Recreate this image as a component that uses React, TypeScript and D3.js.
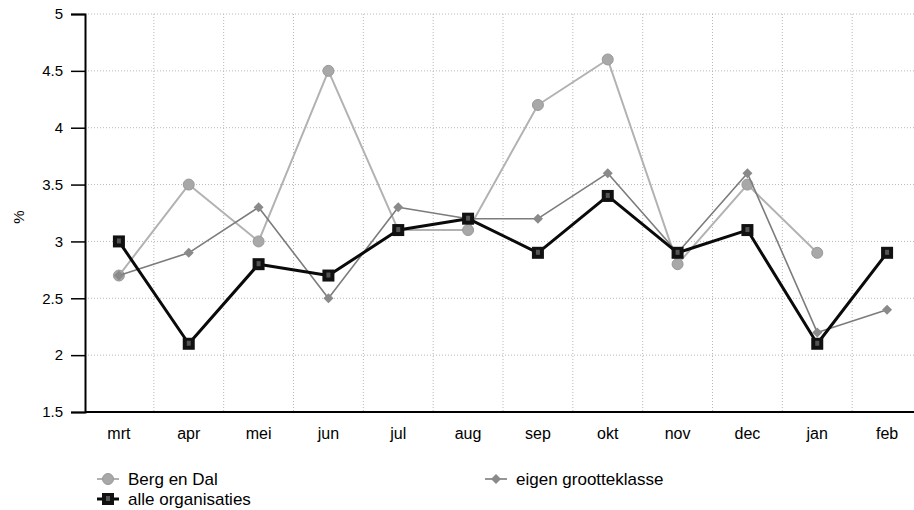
import React, { useEffect, useRef } from 'react';
import * as d3 from 'd3';

const months = ['mrt', 'apr', 'mei', 'jun', 'jul', 'aug', 'sep', 'okt', 'nov', 'dec', 'jan', 'feb'];
const bergEnDal = [2.7, 3.5, 3.0, 4.5, 3.1, 3.1, 4.2, 4.6, 2.8, 3.5, 2.9, null];
const eigenGrootteklasse = [2.7, 2.9, 3.3, 2.5, 3.3, 3.2, 3.2, 3.6, 2.9, 3.6, 2.2, 2.4];
const alleOrganisaties = [3.0, 2.1, 2.8, 2.7, 3.1, 3.2, 2.9, 3.4, 2.9, 3.1, 2.1, 2.9];
const yTicks = [1.5, 2, 2.5, 3, 3.5, 4, 4.5, 5];

export default function App() {
  const ref = useRef<SVGSVGElement>(null);

  useEffect(() => {
    if (!ref.current) return;
    const svg = d3.select(ref.current);
    svg.selectAll('*').remove();

    const width = 914;
    const margin = { top: 14, left: 85, bottom: 412 };
    const font = '"Liberation Sans", Arial, sans-serif';

    const x = d3.scaleBand().domain(months).range([84, 922]);
    const cx = (m: string) => x(m)! + x.bandwidth() / 2;
    const y = d3.scaleLinear().domain([1.5, 5]).range([margin.bottom, margin.top]);

    // grid
    const grid = svg.append('g').attr('stroke', '#b8b8b8').attr('stroke-dasharray', '1,2');
    grid.selectAll('line.h')
      .data(yTicks.slice(1))
      .enter()
      .append('line')
      .attr('x1', margin.left)
      .attr('x2', width)
      .attr('y1', d => y(d))
      .attr('y2', d => y(d));
    grid.selectAll('line.v')
      .data(months.slice(1))
      .enter()
      .append('line')
      .attr('x1', d => x(d)!)
      .attr('x2', d => x(d)!)
      .attr('y1', margin.top)
      .attr('y2', margin.bottom);

    // y axis
    const yAxis = svg.append('g')
      .attr('transform', `translate(${margin.left},0)`)
      .call(d3.axisLeft(y).tickValues(yTicks).tickSize(14).tickPadding(8).tickFormat(d => String(d)));
    yAxis.select('.domain').attr('stroke', '#000').attr('stroke-width', 2);
    yAxis.selectAll('.tick line').attr('stroke', '#000').attr('stroke-width', 1.5);
    yAxis.selectAll('.tick text')
      .attr('fill', '#000')
      .attr('font-size', 15)
      .attr('font-family', font);

    // x axis
    svg.append('line')
      .attr('x1', margin.left)
      .attr('x2', width)
      .attr('y1', margin.bottom)
      .attr('y2', margin.bottom)
      .attr('stroke', '#000')
      .attr('stroke-width', 2);
    svg.append('g')
      .selectAll('text')
      .data(months)
      .enter()
      .append('text')
      .attr('x', d => cx(d))
      .attr('y', 439)
      .attr('text-anchor', 'middle')
      .attr('font-size', 16)
      .attr('font-family', font)
      .text(d => d);

    svg.append('text')
      .attr('transform', 'translate(24,217) rotate(-90)')
      .attr('text-anchor', 'middle')
      .attr('font-size', 15)
      .attr('font-family', font)
      .text('%');

    const series = [
      { key: 'berg', values: bergEnDal, color: '#b2b2b2', width: 2, marker: 'circle', mfill: '#a8a8a8' },
      { key: 'eigen', values: eigenGrootteklasse, color: '#7c7c7c', width: 1.6, marker: 'diamond', mfill: '#8a8a8a' },
      { key: 'alle', values: alleOrganisaties, color: '#0a0a0a', width: 3, marker: 'square', mfill: '#111' },
    ];

    const drawMarker = (g: any, type: string, fill: string) => {
      if (type === 'circle') {
        g.append('circle').attr('r', 5.5).attr('fill', fill).attr('stroke', '#999').attr('stroke-width', 1);
      } else if (type === 'diamond') {
        g.append('path').attr('d', 'M0,-5L5,0L0,5L-5,0Z').attr('fill', fill);
      } else {
        g.append('rect').attr('x', -6).attr('y', -6).attr('width', 12).attr('height', 12).attr('fill', fill);
        g.append('rect').attr('x', -2).attr('y', -3).attr('width', 4).attr('height', 5).attr('fill', '#555');
      }
    };

    series.forEach(s => {
      const pts = months.map((m, i) => ({ m, v: s.values[i] })).filter(p => p.v != null) as { m: string; v: number }[];
      const line = d3.line<{ m: string; v: number }>().x(p => cx(p.m)).y(p => y(p.v));
      svg.append('path')
        .datum(pts)
        .attr('fill', 'none')
        .attr('stroke', s.color)
        .attr('stroke-width', s.width)
        .attr('stroke-linejoin', 'round')
        .attr('d', line);
      pts.forEach(p => {
        const g = svg.append('g').attr('transform', `translate(${cx(p.m)},${y(p.v)})`);
        drawMarker(g, s.marker, s.mfill);
      });
    });

    // legend
    const legend = [
      { label: 'Berg en Dal', s: series[0], lx: 97, ly: 479 },
      { label: 'alle organisaties', s: series[2], lx: 97, ly: 499 },
      { label: 'eigen grootteklasse', s: series[1], lx: 485, ly: 479 },
    ];
    legend.forEach(l => {
      const g = svg.append('g');
      g.append('line')
        .attr('x1', l.lx)
        .attr('x2', l.lx + 22)
        .attr('y1', l.ly)
        .attr('y2', l.ly)
        .attr('stroke', l.s.color)
        .attr('stroke-width', l.s.width);
      const mg = g.append('g').attr('transform', `translate(${l.lx + 11},${l.ly})`);
      drawMarker(mg, l.s.marker, l.s.mfill);
      g.append('text')
        .attr('x', l.lx + 31)
        .attr('y', l.ly + 6)
        .attr('font-size', 17)
        .attr('font-family', font)
        .text(l.label);
    });
  }, []);

  return (
    <svg
      ref={ref}
      width={914}
      height={510}
      style={{ position: 'absolute', left: 0, top: 0, background: '#fff' }}
    />
  );
}
